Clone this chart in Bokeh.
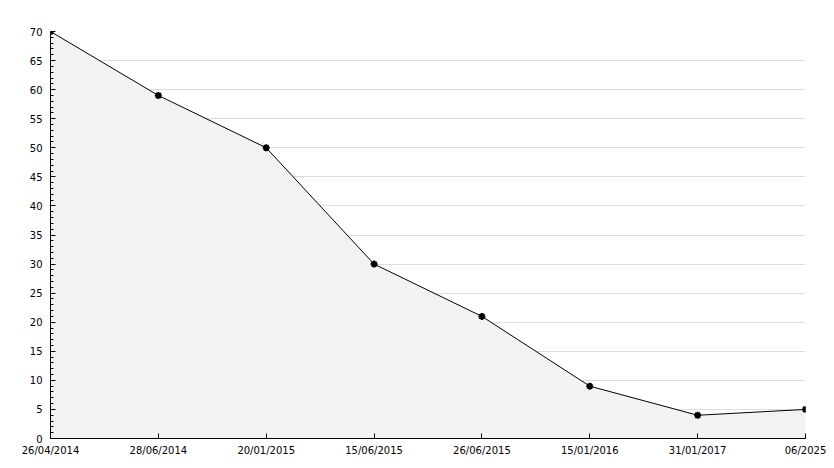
from bokeh.plotting import figure
from bokeh.models import FixedTicker, Range1d, ColumnDataSource
from bokeh.embed import file_html
from bokeh.resources import INLINE

dates = ["26/04/2014", "28/06/2014", "20/01/2015", "15/06/2015",
         "26/06/2015", "15/01/2016", "31/01/2017", "06/2025"]
values = [70, 59, 50, 30, 21, 9, 4, 5]
y_ticks = list(range(0, 75, 5))

xs = list(range(len(dates)))
src = ColumnDataSource(dict(x=xs, y=values, y0=[0] * len(xs)))

p = figure(width=826, height=460, output_backend="svg", toolbar_location=None,
           x_range=Range1d(0, len(dates) - 1), y_range=Range1d(0, 70),
           min_border_left=50, min_border_right=21, min_border_top=31, min_border_bottom=22)
p.outline_line_color = None
p.background_fill_color = "white"

p.varea(x="x", y1="y0", y2="y", source=src, fill_color="#f2f2f2")
p.line(x="x", y="y", source=src, line_color="black", line_width=1)
p.scatter(x="x", y="y", source=src, marker="asterisk", size=7, line_color="black", line_width=2)
p.scatter(x="x", y="y", source=src, marker="circle", size=4, fill_color="black", line_color="black")

p.xgrid.grid_line_color = None
p.ygrid.grid_line_color = "#dddddd"
p.ygrid.ticker = FixedTicker(ticks=y_ticks)

p.xaxis.ticker = FixedTicker(ticks=xs)
p.xaxis.major_label_overrides = {i: d for i, d in enumerate(dates)}
p.yaxis.ticker = FixedTicker(ticks=y_ticks, minor_ticks=list(range(0, 71)))

for ax in (p.xaxis[0], p.yaxis[0]):
    ax.axis_line_color = "black"
    ax.axis_line_width = 1
    ax.major_tick_in = 5
    ax.major_tick_out = 0
    ax.minor_tick_in = 3
    ax.minor_tick_out = 0
    ax.major_tick_line_color = "black"
    ax.minor_tick_line_color = "black"
    ax.major_label_text_font = "DejaVu Sans"
    ax.major_label_text_font_size = "10px"
    ax.major_label_text_color = "black"
p.xaxis.major_label_standoff = 6
p.yaxis.major_label_standoff = 8
p.xaxis.minor_tick_line_color = None

open("out.html", "w").write(file_html(p, INLINE))
